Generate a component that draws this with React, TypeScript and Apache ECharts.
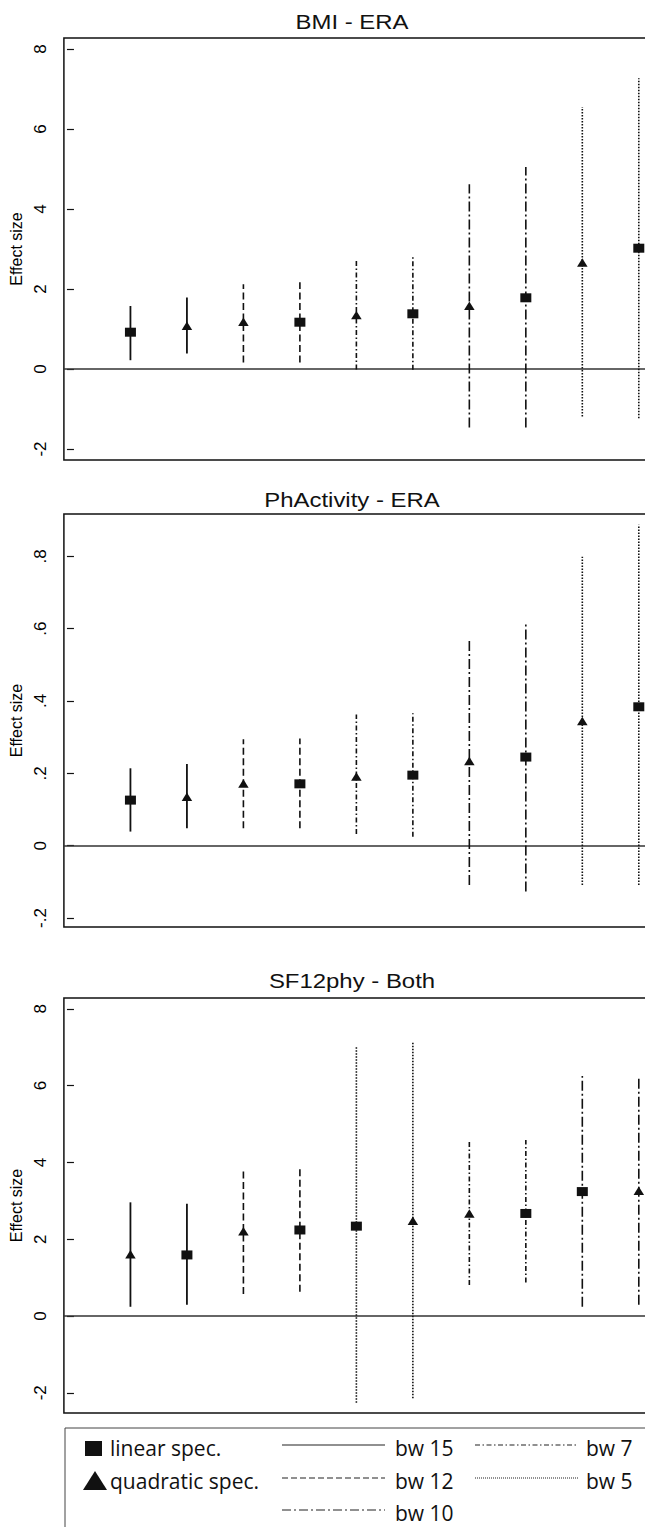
import React, { useEffect, useRef } from "react";
import * as echarts from "echarts";

// ---------- data ----------
const positions = [1, 2, 3, 4, 5, 6, 7, 8, 9, 10];

const panelTitles = ["BMI - ERA", "PhActivity - ERA", "SF12phy - Both"];

const bmiEst = [0.92, 1.08, 1.18, 1.17, 1.35, 1.38, 1.58, 1.78, 2.66, 3.02];
const bmiLo = [0.22, 0.39, 0.16, 0.16, -0.01, -0.02, -1.46, -1.46, -1.19, -1.23];
const bmiHi = [1.575, 1.79, 2.12, 2.17, 2.73, 2.82, 4.62, 5.05, 6.55, 7.27];
const bmiMarkers = ["sq", "tri", "tri", "sq", "tri", "sq", "tri", "sq", "tri", "sq"];
const bmiStyles = ["bw15", "bw15", "bw12", "bw12", "bw7", "bw7", "bw10", "bw10", "bw5", "bw5"];
const bmiTicks = [-2, 0, 2, 4, 6, 8];

const phEst = [0.126, 0.135, 0.172, 0.171, 0.191, 0.195, 0.234, 0.245, 0.345, 0.384];
const phLo = [0.039, 0.048, 0.048, 0.048, 0.032, 0.025, -0.109, -0.127, -0.109, -0.109];
const phHi = [0.214, 0.226, 0.294, 0.296, 0.363, 0.366, 0.573, 0.619, 0.799, 0.887];
const phMarkers = ["sq", "tri", "tri", "sq", "tri", "sq", "tri", "sq", "tri", "sq"];
const phStyles = ["bw15", "bw15", "bw12", "bw12", "bw7", "bw7", "bw10", "bw10", "bw5", "bw5"];
const phTicks = [-0.2, 0, 0.2, 0.4, 0.6, 0.8];

const sfEst = [1.61, 1.59, 2.21, 2.24, 2.34, 2.48, 2.67, 2.67, 3.24, 3.26];
const sfLo = [0.24, 0.29, 0.57, 0.63, -2.26, -2.14, 0.81, 0.87, 0.24, 0.29];
const sfHi = [2.96, 2.92, 3.8, 3.85, 7.01, 7.14, 4.54, 4.58, 6.25, 6.25];
const sfMarkers = ["tri", "sq", "tri", "sq", "sq", "tri", "tri", "sq", "sq", "tri"];
const sfStyles = ["bw15", "bw15", "bw12", "bw12", "bw5", "bw5", "bw7", "bw7", "bw10", "bw10"];
const sfTicks = [-2, 0, 2, 4, 6, 8];

const legendMarkers = ["linear spec.", "quadratic spec."];
const legendLines = ["bw 15", "bw 12", "bw 10", "bw 7", "bw 5"];

// ---------- styling ----------
const INK = "#111";
const dashFor: Record<string, number[] | null> = {
  bw15: null,
  bw12: [7, 3.5],
  bw10: [10, 3, 2, 3],
  bw7: [5, 2.5, 1.5, 2.5],
  bw5: [1.5, 1.5],
};
const legendDash: Record<string, number[] | null> = {
  "bw 15": null,
  "bw 12": [6, 3],
  "bw 10": [9, 3, 2, 3],
  "bw 7": [5, 2.5, 1.5, 2.5],
  "bw 5": [1, 1],
};

const panels = [
  { est: bmiEst, lo: bmiLo, hi: bmiHi, markers: bmiMarkers, styles: bmiStyles, ticks: bmiTicks, min: -2.275, max: 8.275, top: 38, height: 422 },
  { est: phEst, lo: phLo, hi: phHi, markers: phMarkers, styles: phStyles, ticks: phTicks, min: -0.2248, max: 0.917, top: 514, height: 413 },
  { est: sfEst, lo: sfLo, hi: sfHi, markers: sfMarkers, styles: sfStyles, ticks: sfTicks, min: -2.526, max: 8.281, top: 998, height: 415 },
];

const fmtTick = (v: number) => {
  if (Math.abs(v) < 1e-9) return "0";
  let s = Math.abs(v) < 1 ? v.toFixed(1) : String(Math.round(v));
  s = s.replace("0.", ".");
  return s;
};

export default function App() {
  const ref = useRef<HTMLDivElement>(null);

  useEffect(() => {
    if (!ref.current) return;
    const chart = echarts.init(ref.current, null, { renderer: "svg" });

    const grids: any[] = [];
    const xAxes: any[] = [];
    const yAxes: any[] = [];
    const series: any[] = [];

    panels.forEach((p, k) => {
      grids.push({
        left: 57,
        right: 9,
        top: p.top,
        height: p.height,
        show: true,
        borderColor: INK,
        borderWidth: 1.5,
        backgroundColor: "transparent",
      });
      xAxes.push({
        type: "value",
        gridIndex: k,
        min: -0.178,
        max: 10.216,
        show: false,
      });
      yAxes.push({
        type: "value",
        gridIndex: k,
        min: p.min,
        max: p.max,
        name: "Effect size",
        nameLocation: "middle",
        nameRotate: 90,
        nameGap: 36,
        nameTextStyle: { fontFamily: "Liberation Sans", fontSize: 16, color: "#000" },
        axisLine: { show: false },
        splitLine: { show: false },
        axisTick: { show: true, length: 7, customValues: p.ticks, lineStyle: { color: INK, width: 1.2 } },
        axisLabel: {
          show: true,
          customValues: p.ticks,
          rotate: 90,
          margin: 15,
          fontFamily: "Liberation Sans",
          fontSize: 17,
          color: "#000",
          formatter: (v: number) => fmtTick(v),
        },
      });
      const styles = p.styles;
      series.push({
        type: "custom",
        xAxisIndex: k,
        yAxisIndex: k,
        silent: true,
        data: positions.map((x, i) => [x, p.lo[i], p.hi[i]]),
        encode: { x: 0, y: [1, 2] },
        renderItem: (params: any, api: any) => {
          const x = api.value(0);
          const a = api.coord([x, api.value(1)]);
          const b = api.coord([x, api.value(2)]);
          const key = styles[params.dataIndex];
          return {
            type: "line",
            shape: { x1: a[0], y1: a[1], x2: b[0], y2: b[1] },
            style: {
              stroke: INK,
              lineWidth: key === "bw15" ? 1.8 : 1.6,
              lineDash: dashFor[key] || undefined,
            },
          };
        },
        z: 3,
      });
      series.push({
        type: "scatter",
        xAxisIndex: k,
        yAxisIndex: k,
        silent: true,
        data: positions.map((x, i) => ({
          value: [x, p.est[i]],
          symbol: p.markers[i] === "sq" ? "rect" : "triangle",
          symbolSize: p.markers[i] === "sq" ? [11, 9] : [10.5, 8.5],
        })),
        itemStyle: { color: INK, opacity: 1 },
        z: 4,
        markLine: {
          silent: true,
          symbol: ["none", "none"],
          label: { show: false },
          lineStyle: { color: "#333", width: 1.5, type: "solid" },
          data: [{ yAxis: 0 }],
          z: 2,
        },
      });
    });

    const titleY = [22, 500, 981];
    const graphic: any[] = [];
    panelTitles.forEach((t, k) => {
      graphic.push({
        type: "text",
        x: 352,
        y: titleY[k],
        scaleX: 1.14,
        style: {
          text: t,
          fontFamily: "Liberation Sans",
          fontSize: 21,
          fill: INK,
          align: "center",
          verticalAlign: "middle",
        },
      });
    });

    // legend
    const lf = { fontFamily: "Open Sans", fontSize: 21, fill: INK, verticalAlign: "middle" };
    const rows = [1448, 1481, 1513];
    graphic.push({
      type: "rect",
      shape: { x: 65, y: 1428, width: 620, height: 140 },
      style: { fill: "#fff", stroke: "#444", lineWidth: 1 },
    });
    graphic.push({ type: "rect", shape: { x: 85, y: 1441, width: 17, height: 15 }, style: { fill: INK } });
    graphic.push({
      type: "polygon",
      shape: { points: [[83, 1490], [107, 1490], [95, 1471]] },
      style: { fill: INK },
    });
    graphic.push({ type: "text", x: 110, y: rows[0], style: { ...lf, text: legendMarkers[0], align: "left" } });
    graphic.push({ type: "text", x: 110, y: rows[1], style: { ...lf, text: legendMarkers[1], align: "left" } });
    const linePos = [
      { x1: 282, x2: 385, tx: 395, y: rows[0] },
      { x1: 282, x2: 385, tx: 395, y: rows[1] },
      { x1: 282, x2: 385, tx: 395, y: rows[2] },
      { x1: 475, x2: 578, tx: 586, y: rows[0] },
      { x1: 475, x2: 578, tx: 586, y: rows[1] },
    ];
    legendLines.forEach((name, i) => {
      const lp = linePos[i];
      graphic.push({
        type: "line",
        shape: { x1: lp.x1, y1: lp.y - 3, x2: lp.x2, y2: lp.y - 3 },
        style: { stroke: "#222", lineWidth: 1.1, lineDash: legendDash[name] || undefined },
      });
      graphic.push({ type: "text", x: lp.tx, y: lp.y, style: { ...lf, text: name, align: "left" } });
    });

    chart.setOption({
      animation: false,
      backgroundColor: "#fff",
      grid: grids,
      xAxis: xAxes,
      yAxis: yAxes,
      series,
      graphic,
    });

    return () => chart.dispose();
  }, []);

  return (
    <div style={{ position: "absolute", left: 0, top: 0, width: 645, height: 1527, overflow: "hidden", background: "#fff" }}>
      <div ref={ref} style={{ width: 660, height: 1527 }} />
    </div>
  );
}
